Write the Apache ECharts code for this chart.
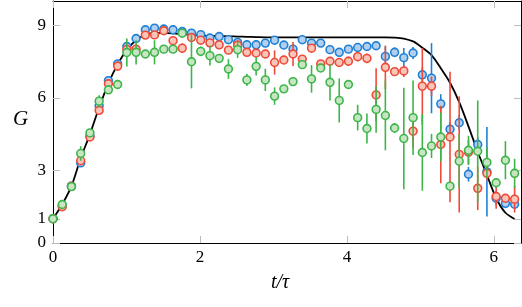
<!DOCTYPE html>
<html><head><meta charset="utf-8">
<script src="https://cdn.jsdelivr.net/npm/echarts@6/dist/echarts.min.js"></script>
<style>html,body{margin:0;padding:0;background:#fff}#c{width:522px;height:307px}</style>
</head><body><div id="c"></div>
<script>
// Sampling times t/tau
const tVals = [0,0.126,0.251,0.377,0.503,0.628,0.754,0.880,1.005,1.131,1.257,1.382,1.508,1.634,1.759,1.885,2.011,2.136,2.262,2.388,2.513,2.639,2.765,2.890,3.016,3.142,3.267,3.393,3.519,3.644,3.770,3.896,4.021,4.147,4.273,4.398,4.524,4.650,4.775,4.901,5.027,5.152,5.278,5.404,5.529,5.655,5.781,5.906,6.032,6.158,6.283];
// Theory curve
const theory = [1.0,1.6,2.35,3.5,4.5,5.6,6.6,7.38,7.98,8.38,8.6,8.68,8.68,8.66,8.63,8.6,8.58,8.56,8.55,8.54,8.53,8.52,8.51,8.5,8.5,8.5,8.5,8.5,8.5,8.5,8.5,8.5,8.5,8.5,8.5,8.5,8.5,8.49,8.45,8.33,8.07,7.76,7.22,6.62,5.82,4.82,3.77,2.81,1.85,1.25,1.0];
// Blue series
const blueG = [1.0,1.55,2.35,3.31,4.42,5.67,6.71,7.40,8.12,8.45,8.81,8.88,8.84,8.81,8.74,8.67,8.61,8.47,8.53,8.40,8.29,8.19,8.19,8.26,8.38,8.18,8.01,8.40,8.26,8.26,7.99,7.88,8.01,8.08,8.12,8.15,7.71,7.88,7.66,7.85,6.95,6.81,5.75,4.70,4.97,2.84,4.07,2.94,1.85,1.64,1.60];
const blueErr = [0.05,0.05,0.05,0.05,0.05,0.05,0.05,0.1,0.1,0.1,0.1,0.1,0.1,0.1,0.1,0.1,0.1,0.1,0.1,0.1,0.1,0.1,0.1,0.1,0.1,0.1,0.1,0.1,0.1,0.1,0.15,0.15,0.15,0.15,0.15,0.15,0.4,0.2,0.4,0.25,0.3,1.45,0.4,0.3,0.3,0.3,0.3,1.85,0.3,0.2,0.2];
// Red series
const redG = [1.0,1.5,2.35,3.40,4.38,5.48,6.58,7.31,8.0,8.01,8.59,8.60,8.77,8.36,8.05,8.49,8.38,8.27,8.19,7.97,8.18,7.88,7.85,7.81,7.46,7.56,7.81,7.60,8.05,7.40,7.51,7.46,7.51,7.70,7.63,6.12,7.26,7.08,7.11,4.62,6.48,6.48,4.07,4.38,3.66,3.75,2.26,2.88,1.92,1.85,1.81];
const redErr = [0.05,0.05,0.05,0.1,0.1,0.1,0.1,0.2,0.15,0.15,0.1,0.1,0.1,0.15,0.2,0.1,0.1,0.15,0.1,0.15,0.1,0.1,0.1,0.15,0.5,0.15,0.5,0.15,0.1,0.15,0.15,0.15,0.2,0.2,0.2,1.1,0.9,0.1,0.25,0.68,1.58,0.4,1.6,2.7,2.4,0.5,0.9,0.3,0.5,0.1,0.55];
// Green series
const greenG = [1.0,1.59,2.33,3.70,4.55,5.86,6.33,6.55,7.87,7.88,7.81,7.88,8.01,8.01,8.67,7.49,7.92,7.74,7.63,7.19,7.99,6.74,7.30,6.74,6.07,6.37,6.67,7.37,6.78,7.23,6.64,5.89,6.55,5.18,4.73,5.52,5.27,4.75,4.32,5.18,3.74,4.01,4.38,2.35,3.38,3.83,3.79,3.33,2.49,3.42,2.88];
const greenErr = [0.05,0.05,0.1,0.3,0.1,0.25,0.1,0.1,0.58,0.5,0.1,0.5,0.15,0.15,0.1,1.1,0.2,0.41,0.15,0.41,0.34,0.25,0.38,0.46,0.36,0.1,0.1,0.15,0.57,0.15,0.75,0.91,0.1,0.53,0.62,0.96,1.44,0.2,2.1,1.54,1.58,0.5,1.0,0.1,1.1,0.6,2.1,0.65,0.2,0.79,0.6];
// Axis ticks
const xTicks = [0,2,4,6];
const yTicks = [0,1,3,6,9];

const FONT = 'Liberation Serif';
const chart = echarts.init(document.getElementById('c'), null, {renderer:'canvas'});

function pts(g, e){ return tVals.map((t,i)=>[t,g[i],e[i]]); }
function render(stroke, fill){
  return function(params, api){
    const x = api.value(0), y = api.value(1), e = api.value(2);
    const c = api.coord([x,y]);
    const top = api.coord([x,y+e]);
    const bot = api.coord([x,y-e]);
    return {type:'group', children:[
      {type:'line', shape:{x1:c[0],y1:top[1],x2:c[0],y2:bot[1]}, style:{stroke:stroke,lineWidth:1.6}},
      {type:'circle', shape:{cx:c[0],cy:c[1],r:3.9}, style:{fill:fill,stroke:stroke,lineWidth:1.6}}
    ]};
  };
}
const tickStyle = {inside:true, length:7, lineStyle:{color:'#bdbdbd', width:1}};
const lineStyle = {lineStyle:{color:'#000', width:1}, onZero:false};

chart.setOption({
  animation:false,
  backgroundColor:'#fff',
  grid:{left:53, right:1, top:1, bottom:64, containLabel:false},
  xAxis:[
    {type:'value', min:0, max:6.37, position:'bottom', axisLine:lineStyle,
     axisTick:Object.assign({customValues:xTicks}, tickStyle),
     axisLabel:{customValues:xTicks, fontFamily:FONT, fontSize:17, color:'#000', margin:6},
     splitLine:{show:false}},
    {type:'value', min:0, max:6.37, position:'top', axisLine:lineStyle,
     axisTick:Object.assign({customValues:xTicks}, tickStyle),
     axisLabel:{show:false}, splitLine:{show:false}}
  ],
  yAxis:[
    {type:'value', min:0, max:10, position:'left', axisLine:lineStyle,
     axisTick:Object.assign({customValues:yTicks}, tickStyle),
     axisLabel:{customValues:yTicks, fontFamily:FONT, fontSize:17, color:'#000', margin:7},
     splitLine:{show:false}},
    {type:'value', min:0, max:10, position:'right', axisLine:lineStyle,
     axisTick:Object.assign({customValues:yTicks}, tickStyle),
     axisLabel:{show:false}, splitLine:{show:false}}
  ],
  graphic:[
    {type:'text', left:13, top:109, style:{text:'G', font:'italic 21px "Liberation Serif"', fill:'#000'}},
    {type:'text', left:271, top:273, style:{text:'t/τ', font:'italic 20px "Liberation Serif"', fill:'#000'}}
  ],
  series:[
    {type:'line', data:tVals.map((t,i)=>[t,theory[i]]), showSymbol:false, smooth:0.3,
     lineStyle:{color:'#000', width:1.8}, z:1},
    {type:'custom', data:pts(blueG,blueErr), renderItem:render('#1f80d6','#b3cfee'), z:2},
    {type:'custom', data:pts(redG,redErr), renderItem:render('#ee4a3a','#f8c6b8'), z:3},
    {type:'custom', data:pts(greenG,greenErr), renderItem:render('#3db54a','#c7e5c3'), z:4}
  ]
});
</script></body></html>
